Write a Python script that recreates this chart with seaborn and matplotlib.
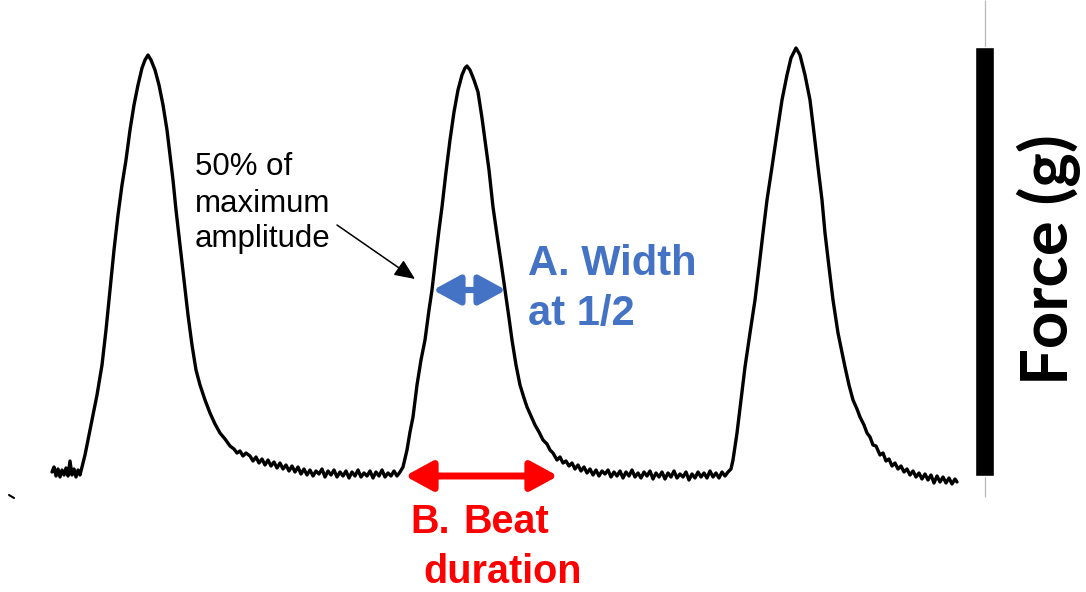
import matplotlib
matplotlib.use("Agg")
import matplotlib.pyplot as plt
from matplotlib.patches import FancyArrowPatch, ArrowStyle
import seaborn as sns
import pandas as pd

# ---- data (time: arbitrary units, force: arbitrary units) ----
time_pts = [
    52, 54, 56, 58, 60, 62, 64, 66, 68, 70, 72, 74, 76, 78, 80, 82,
    85, 88, 93, 97, 102, 106, 110, 114, 118, 122, 126, 130, 134, 138, 142, 145, 148,
    151, 155, 159, 163, 167, 170, 173, 176, 180, 184, 188, 192, 196, 200, 205, 210,
    215, 220, 225, 230, 234, 237, 240, 243, 246,
    250, 253, 256, 259, 262, 265, 268, 271, 274, 277, 280, 283, 286, 289, 292, 295,
    298, 301, 304, 307, 310, 313, 316, 319, 322, 325, 328, 331, 334, 337, 340, 343,
    346, 349, 352, 355, 358, 361, 364, 367, 370, 373, 376, 379, 382, 385, 388, 391,
    394, 397, 400,
    403, 407, 410, 413, 417, 421, 425, 429, 432, 436, 439, 442, 446, 450, 454, 458,
    462, 465, 467, 470, 474, 478, 482, 485, 489, 493, 497, 501, 505, 509, 512, 516,
    520, 524, 527, 531, 535, 539, 543, 547, 550, 553, 557, 560, 563, 566, 569, 572,
    575, 578, 581, 584, 587, 590, 593, 596, 599, 602, 605, 608, 611, 614, 617, 620,
    623, 626, 629, 632, 635, 638, 641, 644, 647, 650, 653, 656, 659, 662, 665, 668,
    671, 674, 677, 680, 683, 686, 689, 692, 695, 698, 701, 704, 707, 710, 713, 716,
    719, 722, 725, 728, 731,
    733, 737, 741, 745, 750, 755, 759, 763, 767, 772, 777, 782, 787, 791, 796,
    800, 805, 810, 814, 818, 822, 825, 829, 833, 838, 845, 849, 853, 857, 860, 864,
    867, 870, 873, 876, 880, 883, 886, 889, 892, 895, 898, 901, 904, 907, 910, 913,
    916, 919, 922, 925, 928, 931, 934, 937, 940, 943, 946, 949, 952, 955, 957,
]
force_pts = [
    8, 13, 4, 11, 3, 10, 5, 12, 4, 19, 5, 11, 3, 10, 5, 13,
    25, 40, 65, 85, 115, 150, 190, 230, 265, 295, 320, 350, 375, 395, 412, 420, 425,
    420, 410, 395, 375, 350, 325, 300, 270, 235, 200, 165, 135, 110, 95, 80, 67,
    56, 47, 41, 34, 31, 27, 29, 24, 27,
    24, 19, 23, 17, 21, 15, 20, 14, 18, 12, 17, 11, 15, 9, 14, 8,
    13, 6, 11, 5, 10, 4, 9, 6, 11, 3, 9, 5, 10, 3, 8, 4,
    9, 2, 8, 4, 10, 3, 7, 4, 9, 2, 8, 4, 10, 3, 7, 4,
    9, 4, 8,
    13, 30, 48, 63, 95, 120, 140, 170, 190, 225, 250, 273, 308, 340, 368, 390,
    405, 412, 414, 410, 400, 388, 362, 340, 310, 273, 245, 218, 190, 162, 140, 115,
    95, 82, 73, 64, 55, 48, 40, 36, 30, 27, 20, 23, 17, 19, 14, 17,
    11, 15, 9, 13, 7, 11, 5, 10, 4, 9, 6, 10, 3, 8, 4, 9,
    2, 8, 4, 10, 3, 7, 2, 8, 4, 9, 1, 7, 3, 8, 1, 7,
    3, 9, 2, 6, 3, 8, 0, 6, 2, 8, 3, 7, 2, 9, 3, 7,
    2, 8, 4, 8, 11,
    20, 47, 80, 113, 147, 180, 213, 247, 280, 313, 347, 380, 405, 422, 432,
    425, 405, 380, 347, 313, 280, 247, 213, 180, 147, 113, 95, 80, 71, 63, 55,
    47, 43, 35, 34, 25, 27, 19, 21, 14, 17, 11, 14, 8, 11, 5, 9,
    3, 7, 1, 6, 0, 5, -3, 4, -2, 3, -3, 2, -4, 1, -2,
]

# annotation measurements (same units)
half_width_span = [433, 506]      # A. width at 1/2 amplitude
half_level = 190
beat_span = [405, 558]            # B. beat duration
beat_level = 4
scale_bar_x = 984.5
scale_bar_bottom = 4
scale_bar_top = 433

BLUE = "#4472C4"
RED = "#FF0000"

sns.set_style("white")
plt.rcParams["font.family"] = ["Liberation Sans", "DejaVu Sans"]

fig = plt.figure(figsize=(10.86, 5.92), dpi=100)
ax = fig.add_axes([0, 0, 1, 1])
ax.set_xlim(0, 1086)
ax.set_ylim(-112, 480)
ax.axis("off")

df = pd.DataFrame({"time": time_pts, "force": force_pts})
sns.lineplot(data=df, x="time", y="force", ax=ax, color="black", lw=2.4,
             estimator=None, sort=False, legend=False)

# tiny mark at lower left
ax.plot([9, 14], [-15, -18], color="black", lw=1.5)

# grey axis line and scale bar
ax.vlines(scale_bar_x, -17, 480, color="#b8b8b8", lw=0.9)
ax.bar([scale_bar_x], [scale_bar_top - scale_bar_bottom], bottom=scale_bar_bottom,
       width=19, color="black", zorder=3)

ax.text(1068, 220, "Force (g)", rotation=90, rotation_mode="anchor",
        ha="center", va="baseline", fontsize=47, fontweight="bold",
        family=["Lato", "DejaVu Sans"], color="black")

# 50% label and arrow
for txt, yb in [("50% of", 305), ("maximum", 268), ("amplitude", 233)]:
    ax.text(195, yb, txt, ha="left", va="baseline", fontsize=22.5, color="black")
ax.add_patch(FancyArrowPatch((337, 255), (415, 201),
                             arrowstyle=ArrowStyle("-|>", head_length=0.5, head_width=0.22),
                             mutation_scale=25, color="black", lw=1.1,
                             shrinkA=0, shrinkB=0))

# A. width at 1/2
ax.add_patch(FancyArrowPatch((half_width_span[0], half_level), (half_width_span[1], half_level),
                             arrowstyle=ArrowStyle("<|-|>", head_length=0.55, head_width=0.3),
                             mutation_scale=30, color=BLUE, lw=4.5,
                             shrinkA=0, shrinkB=0))
ax.text(528, 205, "A. Width", ha="left", va="baseline", fontsize=30,
        fontweight="bold", color=BLUE)
ax.text(528, 155, "at 1/2", ha="left", va="baseline", fontsize=30,
        fontweight="bold", color=BLUE)

# B. beat duration
ax.add_patch(FancyArrowPatch((beat_span[0], beat_level), (beat_span[1], beat_level),
                             arrowstyle=ArrowStyle("<|-|>", head_length=0.55, head_width=0.3),
                             mutation_scale=30, color=RED, lw=5,
                             shrinkA=0, shrinkB=0))
ax.text(410, -53, "B.", ha="left", va="baseline", fontsize=28.5,
        fontweight="bold", color=RED)
ax.text(463, -53, "Beat", ha="left", va="baseline", fontsize=28.5,
        fontweight="bold", color=RED)
ax.text(423, -103, "duration", ha="left", va="baseline", fontsize=28.5,
        fontweight="bold", color=RED)

fig.savefig("out.png", dpi=100)
